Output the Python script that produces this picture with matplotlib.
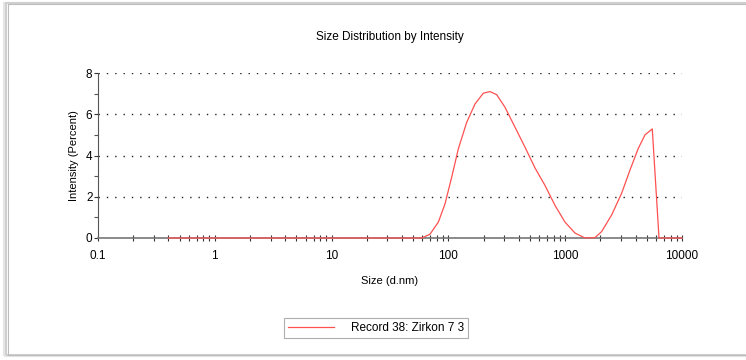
import matplotlib.pyplot as plt
from matplotlib.patches import Rectangle
from matplotlib.ticker import LogLocator, NullFormatter, FixedLocator

plt.rcParams['font.family'] = ['Liberation Sans', 'DejaVu Sans']

# size (d.nm) and intensity (%) for record 38
size_nm = [0.4, 59, 69.5, 82, 93.6, 106.7, 121.6, 143.5, 169, 199, 227, 259,
           305, 372, 453, 551, 671, 818, 996, 1213, 1478, 1800, 2050, 2500,
           3042, 3589, 4227, 4821, 5566, 6356, 10000]
intensity = [0, 0, 0.18, 0.77, 1.66, 2.95, 4.32, 5.61, 6.50, 7.02, 7.10, 6.95,
             6.34, 5.37, 4.40, 3.40, 2.55, 1.58, 0.77, 0.24, 0, 0.02, 0.31,
             1.12, 2.17, 3.30, 4.35, 5.0, 5.29, 0, 0]

x_ticks = [0.1, 1, 10, 100, 1000, 10000]
x_tick_labels = ['0.1', '1', '10', '100', '1000', '10000']
y_ticks = [0, 2, 4, 6, 8]

fig = plt.figure(figsize=(7.46, 3.6), dpi=100)

# drop-shadow style frame around the chart
for off, col in [(3, '#e6e6e6'), (1.5, '#cfcfcf')]:
    fig.patches.append(Rectangle((7 - off, 6 - off / 2), 745, 350 + off,
                                 transform=None, fill=False,
                                 edgecolor=col, linewidth=1.5))
fig.patches.append(Rectangle((8, 5), 745, 351, transform=None,
                             fill=False, edgecolor='#bdbdbd', linewidth=0.8))

ax = fig.add_axes([98 / 746, 122 / 360, 584 / 746, 165 / 360])
ax.set_xscale('log')
ax.set_xlim(0.1, 10000)
ax.set_ylim(0, 8)

for y in [2, 4, 6, 8]:
    ax.axhline(y, color='#222222', linestyle=(0, (1, 5)), linewidth=1.0,
               zorder=1)

ax.plot(size_nm, intensity, color='#ff5050', linewidth=0.9, zorder=4,
        clip_on=False, label='Record 38: Zirkon 7 3')

ax.spines['top'].set_visible(False)
ax.spines['right'].set_visible(False)
ax.spines['left'].set_color('#555555')
ax.spines['bottom'].set_color('#777777')
ax.spines['bottom'].set_linewidth(1.2)

ax.set_xticks(x_ticks)
ax.set_xticklabels(x_tick_labels)
ax.xaxis.set_minor_locator(LogLocator(base=10, subs=range(2, 10)))
ax.xaxis.set_minor_formatter(NullFormatter())
ax.set_yticks(y_ticks)
ax.yaxis.set_minor_locator(FixedLocator([1, 3, 5, 7]))

ax.tick_params(axis='x', which='major', direction='inout', length=5,
               width=0.8, color='#333333', labelsize=8.5, pad=6)
ax.tick_params(axis='x', which='minor', direction='inout', length=4,
               width=0.8, color='#333333')
ax.tick_params(axis='y', which='major', direction='out', length=3,
               width=0.8, color='#333333', labelsize=8.5, pad=1)
ax.tick_params(axis='y', which='minor', direction='out', length=3,
               width=0.8, color='#555555')

ax.set_title('Size Distribution by Intensity', fontsize=8.5, pad=24)
ax.set_xlabel('Size (d.nm)', fontsize=8, labelpad=10)
ax.set_ylabel('Intensity (Percent)', fontsize=8, labelpad=5)

leg = fig.legend(loc='center', bbox_to_anchor=(376 / 746, 1 - 328 / 360),
                 frameon=True, fancybox=False, fontsize=8.5,
                 handlelength=3.9, handletextpad=1.5, borderpad=0.3,
                 borderaxespad=0)
leg.get_frame().set_edgecolor('#9a9a9a')
leg.get_frame().set_linewidth(0.8)

fig.savefig('out.png', dpi=100)
